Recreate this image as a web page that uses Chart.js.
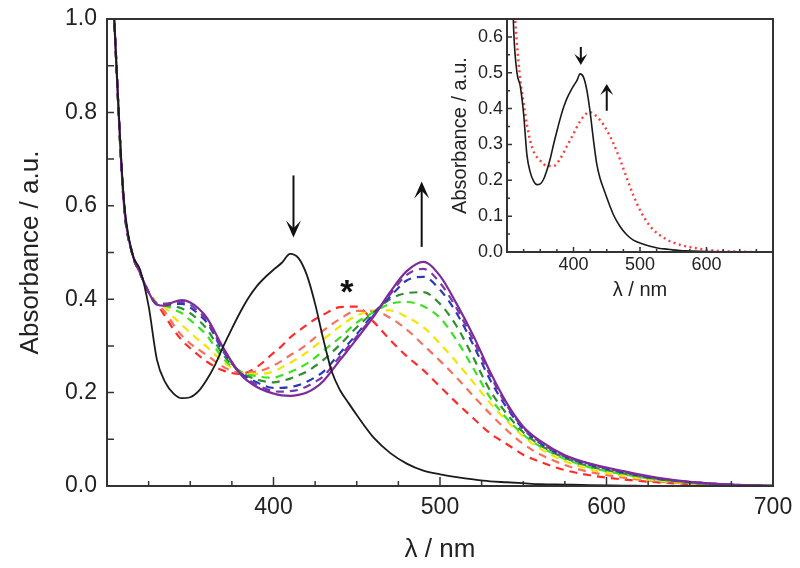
<!DOCTYPE html>
<html lang="en">
<head>
<meta charset="UTF-8">
<title>Absorbance spectra</title>
<script src="https://cdn.jsdelivr.net/npm/chart.js"></script>
<style>
  body { margin: 0; background: #fff; }
  #wrap { position: relative; width: 800px; height: 568px; }
  #mainChart { position: absolute; left: 0; top: 0; }
  #insetChart { position: absolute; left: 430px; top: 0; }
</style>
</head>
<body>
<div id="wrap">
  <canvas id="mainChart" width="800" height="568"></canvas>
  <canvas id="insetChart" width="370" height="310"></canvas>
</div>
<script>
// wavelength grid (nm) shared by the titration spectra
const wavelengths = [300,305,310,315,320,325,330,335,340,345,350,355,360,370,380,390,400,405,410,415,420,425,430,440,450,460,470,480,490,500,510,520,530,540,550,560,575,590,610,630,650,675,700];

// starting spectrum (black), own finer grid
const startWavelengths = [300,305,310,315,320,325,330,335,340,345,350,355,360,365,370,375,380,385,390,395,400,405,410,415,420,425,430,435,440,445,450,455,460,470,480,490,500,510,520,530,540,550,560,575,590,610,630,650,700];
const absStart = [1.35,0.95,0.62,0.5,0.462,0.385,0.27,0.222,0.198,0.188,0.19,0.203,0.228,0.26,0.3,0.337,0.372,0.403,0.428,0.447,0.463,0.478,0.497,0.488,0.452,0.39,0.313,0.245,0.205,0.178,0.152,0.127,0.104,0.071,0.048,0.033,0.025,0.019,0.014,0.01,0.008,0.006,0.004,0.003,0.002,0.001,0,0,0];

const absRed = [1.35,0.95,0.61,0.5,0.455,0.415,0.39,0.363,0.335,0.312,0.295,0.28,0.266,0.247,0.24,0.255,0.285,0.3,0.318,0.332,0.345,0.357,0.367,0.383,0.384,0.352,0.313,0.278,0.248,0.213,0.178,0.145,0.113,0.09,0.067,0.052,0.034,0.023,0.014,0.008,0.004,0.001,0];
const absSalmon = [1.35,0.95,0.61,0.5,0.455,0.415,0.39,0.372,0.345,0.322,0.305,0.292,0.28,0.255,0.243,0.245,0.258,0.268,0.28,0.29,0.303,0.318,0.333,0.358,0.375,0.375,0.36,0.335,0.302,0.268,0.232,0.193,0.155,0.12,0.09,0.068,0.045,0.03,0.018,0.01,0.005,0.002,0];
const absYellow = [1.35,0.95,0.61,0.5,0.455,0.415,0.39,0.382,0.362,0.345,0.328,0.313,0.298,0.265,0.245,0.24,0.245,0.254,0.264,0.274,0.286,0.3,0.314,0.342,0.365,0.375,0.376,0.362,0.34,0.305,0.265,0.222,0.178,0.14,0.106,0.08,0.053,0.036,0.022,0.012,0.006,0.002,0];
const absLightGreen = [1.35,0.95,0.61,0.5,0.455,0.415,0.39,0.386,0.378,0.37,0.355,0.34,0.322,0.272,0.245,0.235,0.232,0.237,0.244,0.252,0.262,0.275,0.29,0.318,0.35,0.372,0.39,0.394,0.385,0.36,0.312,0.252,0.19,0.145,0.11,0.085,0.058,0.04,0.025,0.014,0.007,0.002,0];
const absDarkGreen = [1.35,0.95,0.61,0.5,0.455,0.415,0.39,0.388,0.385,0.38,0.37,0.355,0.336,0.28,0.245,0.228,0.222,0.225,0.23,0.237,0.245,0.257,0.27,0.303,0.34,0.372,0.4,0.413,0.415,0.39,0.342,0.275,0.205,0.155,0.115,0.088,0.06,0.042,0.027,0.015,0.008,0.002,0];
const absBlue = [1.35,0.95,0.61,0.5,0.455,0.415,0.39,0.39,0.39,0.39,0.382,0.368,0.35,0.287,0.243,0.222,0.21,0.21,0.212,0.216,0.223,0.233,0.245,0.285,0.325,0.368,0.405,0.44,0.448,0.42,0.37,0.302,0.228,0.168,0.122,0.092,0.063,0.045,0.029,0.016,0.008,0.003,0];
const absViolet = [1.35,0.95,0.61,0.5,0.455,0.415,0.39,0.39,0.393,0.394,0.388,0.373,0.355,0.29,0.242,0.217,0.203,0.202,0.203,0.206,0.213,0.223,0.235,0.278,0.32,0.365,0.41,0.452,0.465,0.435,0.38,0.312,0.238,0.173,0.125,0.094,0.064,0.047,0.03,0.017,0.009,0.003,0];
const absEnd = [1.35,0.95,0.61,0.5,0.455,0.415,0.388,0.386,0.394,0.398,0.393,0.38,0.36,0.295,0.24,0.212,0.198,0.194,0.193,0.195,0.2,0.21,0.225,0.27,0.315,0.362,0.415,0.46,0.48,0.45,0.39,0.322,0.245,0.178,0.127,0.097,0.066,0.048,0.032,0.018,0.009,0.003,0.001];

// inset: reference spectrum (dotted red)
const insetWavelengths = [300,305,310,315,320,325,330,335,340,350,360,370,380,390,400,410,420,425,430,440,450,460,470,480,490,500,510,520,540,560,580,600,620,650,680];
const insetRef = [1.35,0.95,0.72,0.58,0.48,0.415,0.355,0.31,0.28,0.255,0.24,0.24,0.26,0.295,0.33,0.365,0.387,0.39,0.386,0.368,0.34,0.303,0.258,0.207,0.158,0.117,0.085,0.062,0.035,0.02,0.012,0.006,0.003,0.001,0];

const mainXTicks = [400, 500, 600, 700];
const insetXTicks = [400, 500, 600];

const FONT = "'Liberation Sans', Arial, sans-serif";
const pts = (xs, ys) => xs.map((x, i) => ({ x: x, y: ys[i] }));

// inward tick marks + frame, drawn from the chart's own scales
const frameTicks = {
  id: 'frameTicks',
  afterDraw(chart, args, o) {
    const { ctx, chartArea: a, scales: { x, y } } = chart;
    ctx.save();
    ctx.strokeStyle = '#333';
    ctx.lineWidth = 1.5;
    ctx.beginPath();
    const nx = Math.round((x.max - x.min) / o.xMinor);
    for (let i = 0; i <= nx; i++) {
      const px = x.getPixelForValue(x.min + i * o.xMinor);
      const len = (i % o.xEvery === 0) ? o.xMajorLen : o.xMinorLen;
      ctx.moveTo(px, a.bottom); ctx.lineTo(px, a.bottom - len);
    }
    const ny = Math.floor((y.max - y.min) / o.yMinor + 1e-6);
    for (let i = 1; i < ny; i++) {
      const py = y.getPixelForValue(y.min + i * o.yMinor);
      const len = (i % o.yEvery === 0) ? o.yMajorLen : o.yMinorLen;
      ctx.moveTo(a.left, py); ctx.lineTo(a.left + len, py);
    }
    ctx.stroke();
    ctx.lineWidth = o.frameWidth;
    ctx.strokeRect(a.left, a.top, a.right - a.left, a.bottom - a.top);
    ctx.restore();
  }
};

function arrow(ctx, x, yFrom, yTo, w, len) {
  const dir = yTo > yFrom ? 1 : -1;
  ctx.beginPath();
  ctx.moveTo(x, yFrom);
  ctx.lineTo(x, yTo - dir * len * 0.5);
  ctx.stroke();
  ctx.beginPath();
  ctx.moveTo(x, yTo);
  ctx.lineTo(x - w / 2, yTo - dir * len);
  ctx.lineTo(x, yTo - dir * len * 0.55);
  ctx.lineTo(x + w / 2, yTo - dir * len);
  ctx.closePath();
  ctx.fill();
}

const marks = {
  id: 'marks',
  afterDatasetsDraw(chart, args, o) {
    const { ctx, scales: { x, y } } = chart;
    ctx.save();
    ctx.strokeStyle = '#111';
    ctx.fillStyle = '#111';
    ctx.lineWidth = o.shaft;
    (o.arrows || []).forEach(a => {
      arrow(ctx, x.getPixelForValue(a.x), y.getPixelForValue(a.from), y.getPixelForValue(a.to), o.headW, o.headL);
    });
    if (o.star) {
      ctx.font = 'bold 34px ' + FONT;
      ctx.textAlign = 'center';
      ctx.textBaseline = 'alphabetic';
      ctx.fillText('*', x.getPixelForValue(o.star.x), y.getPixelForValue(o.star.y) + 16);
    }
    ctx.restore();
  }
};

function dashed(label, vals, color) {
  return { label: label, data: pts(wavelengths, vals), borderColor: color, borderDash: [8, 6], borderWidth: 2.2 };
}

// keep the plot box fixed: no extra room for edge labels
function fixY(w) { return s => { s.width = w; s.paddingTop = 0; s.paddingBottom = 0; }; }
function fixX(h) { return s => { s.height = h; s.paddingLeft = 0; s.paddingRight = 0; }; }

new Chart(document.getElementById('mainChart'), {
  type: 'line',
  data: {
    datasets: [
      { label: 'start', data: pts(startWavelengths, absStart), borderColor: '#1a1a1a', borderWidth: 1.8 },
      { label: 'end', data: pts(wavelengths, absEnd), borderColor: '#7d2a9c', borderWidth: 2.2 },
      dashed('6', absViolet, '#7a3aa8'),
      dashed('5', absBlue, '#2b3ab5'),
      dashed('4', absDarkGreen, '#2f8f2f'),
      dashed('3', absLightGreen, '#3be21f'),
      dashed('2', absYellow, '#f2e600'),
      dashed('1', absSalmon, '#f7705f'),
      dashed('0', absRed, '#ff2b2b')
    ]
  },
  options: {
    responsive: false,
    animation: false,
    layout: { padding: { left: 0, right: 27, top: 19, bottom: 0 } },
    elements: { point: { radius: 0 }, line: { cubicInterpolationMode: 'monotone', fill: false } },
    plugins: {
      legend: { display: false },
      tooltip: { enabled: false },
      frameTicks: { xMinor: 25, xEvery: 4, xMajorLen: 9, xMinorLen: 5, yMinor: 0.1, yEvery: 2, yMajorLen: 7, yMinorLen: 7, frameWidth: 2 },
      marks: {
        shaft: 2, headW: 15, headL: 17,
        arrows: [{ x: 412, from: 0.665, to: 0.532 }, { x: 489, from: 0.512, to: 0.652 }],
        star: { x: 444, y: 0.427 }
      }
    },
    scales: {
      x: {
        type: 'linear', min: 300, max: 700,
        afterFit: fixX(82),
        grid: { display: false, drawTicks: false }, border: { display: false },
        afterBuildTicks: s => { s.ticks = mainXTicks.map(v => ({ value: v })); },
        ticks: { padding: 8, color: '#222', autoSkip: false, maxRotation: 0, font: { family: FONT, size: 23 } },
        title: { display: true, text: 'λ / nm', color: '#222', padding: { top: 0, bottom: 3 }, font: { family: FONT, size: 26 } }
      },
      y: {
        min: 0, max: 1,
        afterFit: fixY(107),
        grid: { display: false, drawTicks: false }, border: { display: false },
        ticks: { stepSize: 0.2, padding: 10, color: '#222', font: { family: FONT, size: 23 }, callback: v => v.toFixed(1) },
        title: { display: true, text: 'Absorbance / a.u.', color: '#222', padding: { top: 15, bottom: 0 }, font: { family: FONT, size: 26 } }
      }
    }
  },
  plugins: [frameTicks, marks]
});

new Chart(document.getElementById('insetChart'), {
  type: 'line',
  data: {
    datasets: [
      { label: 'start', data: pts(startWavelengths, absStart), borderColor: '#1a1a1a', borderWidth: 1.6 },
      { label: 'reference', data: pts(insetWavelengths, insetRef), borderColor: '#ff3b3b', borderWidth: 2.4, borderDash: [2, 3.5] }
    ]
  },
  options: {
    responsive: false,
    animation: false,
    layout: { padding: { left: 0, right: 27, top: 19, bottom: 0 } },
    elements: { point: { radius: 0 }, line: { cubicInterpolationMode: 'monotone', fill: false } },
    plugins: {
      legend: { display: false },
      tooltip: { enabled: false },
      frameTicks: { xMinor: 25, xEvery: 4, xMajorLen: 5, xMinorLen: 3, yMinor: 0.05, yEvery: 2, yMajorLen: 5, yMinorLen: 3, frameWidth: 2 },
      marks: {
        shaft: 2, headW: 13, headL: 11,
        arrows: [{ x: 411, from: 0.572, to: 0.522 }, { x: 450, from: 0.394, to: 0.469 }]
      }
    },
    scales: {
      x: {
        type: 'linear', min: 300, max: 700,
        afterFit: fixX(58),
        grid: { display: false, drawTicks: false }, border: { display: false },
        afterBuildTicks: s => { s.ticks = insetXTicks.map(v => ({ value: v })); },
        ticks: { padding: 2, color: '#222', autoSkip: false, maxRotation: 0, font: { family: FONT, size: 18 } },
        title: { display: true, text: 'λ / nm', color: '#222', padding: { top: 0, bottom: 8 }, font: { family: FONT, size: 20 } }
      },
      y: {
        min: 0, max: 0.65,
        afterFit: fixY(77),
        grid: { display: false, drawTicks: false }, border: { display: false },
        ticks: { stepSize: 0.1, includeBounds: false, padding: 4, color: '#222', font: { family: FONT, size: 18 }, callback: v => v.toFixed(1) },
        title: { display: true, text: 'Absorbance / a.u.', color: '#222', padding: { top: 18, bottom: 0 }, font: { family: FONT, size: 20 } }
      }
    }
  },
  plugins: [frameTicks, marks]
});
</script>
</body>
</html>
